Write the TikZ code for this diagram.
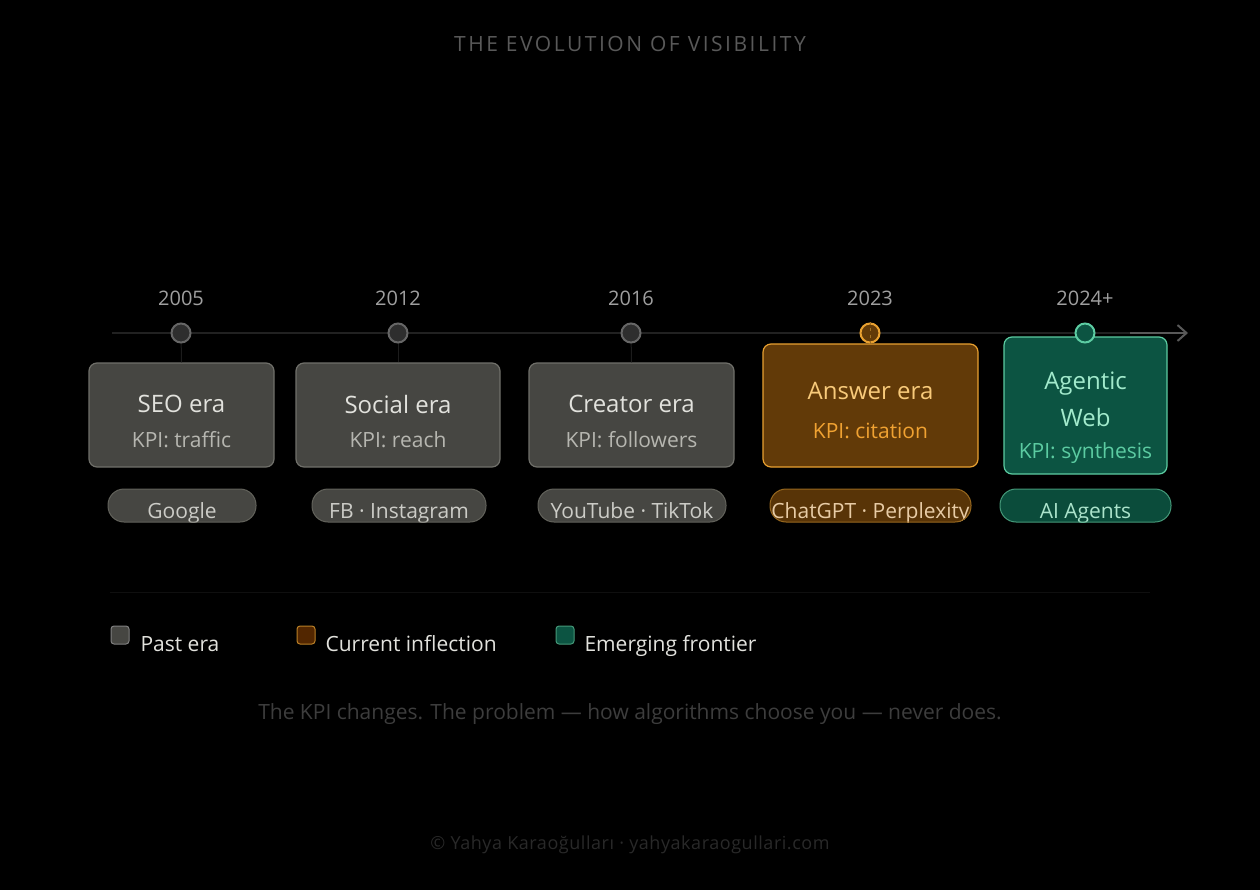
\documentclass[tikz,border=0pt]{standalone}
\usepackage{fontspec}
\setmainfont{Open Sans}
\usetikzlibrary{arrows.meta}

\definecolor{bgblack}{RGB}{0,0,0}
\definecolor{pastfill}{RGB}{70,70,66}
\definecolor{pastdraw}{RGB}{112,112,106}
\definecolor{pasttitle}{RGB}{226,226,221}
\definecolor{pastkpi}{RGB}{182,182,176}
\definecolor{pasttag}{RGB}{204,204,199}
\definecolor{curfill}{RGB}{98,58,8}
\definecolor{curdraw}{RGB}{232,160,48}
\definecolor{curtitle}{RGB}{248,202,122}
\definecolor{curkpi}{RGB}{240,162,50}
\definecolor{curtag}{RGB}{232,204,166}
\definecolor{newfill}{RGB}{12,84,66}
\definecolor{newdraw}{RGB}{92,204,162}
\definecolor{newtitle}{RGB}{162,234,204}
\definecolor{newkpi}{RGB}{92,204,162}
\definecolor{newtag}{RGB}{172,228,204}

\tikzset{
  era/.style={draw, line width=1.2pt, rounded corners=8pt, inner sep=0pt},
  tag/.style={draw, line width=1pt, rounded corners=16pt, inner sep=0pt,
    minimum height=33pt},
  dot/.style={circle, draw, line width=2pt, minimum size=19pt, inner sep=0pt},
  year/.style={text=gray!75, font=\fontsize{20}{24}\selectfont},
  eratitle/.style={font=\fontsize{24}{28}\selectfont},
  erakpi/.style={font=\fontsize{21}{24}\selectfont},
  tagtext/.style={font=\fontsize{21}{24}\selectfont, anchor=base},
  keybox/.style={draw, line width=1pt, rounded corners=3pt, minimum size=18pt, inner sep=0pt},
  keytext/.style={anchor=base west, text=pasttitle, font=\fontsize{21}{24}\selectfont}
}

\begin{document}
\begin{tikzpicture}[x=1pt, y=-1pt]
\fill[bgblack] (0,0) rectangle (1260,890);
\useasboundingbox (0,0) rectangle (1260,890);

\node[text=white!35!black, font=\fontsize{21}{24}\selectfont\addfontfeature{LetterSpace=12}]
  (title) at (630,44) {THE EVOLUTION OF VISIBILITY};

% timeline
\coordinate (start) at (112,333);
\coordinate (arrowtail) at (1130,333);
\coordinate (arrowhead) at (1188,333);
\draw[white!13!black, line width=2pt] (start) -- (arrowtail);
\draw[white!35!black, line width=2pt, -{Straight Barb[length=9pt, width=16pt]}] (arrowtail) -- (arrowhead);

% eras
\draw
(181.5,415) node[era, fill=pastfill, draw=pastdraw, minimum width=185pt, minimum height=104pt](seo){}
(398,415) node[era, fill=pastfill, draw=pastdraw, minimum width=204pt, minimum height=104pt](social){}
(631.5,415) node[era, fill=pastfill, draw=pastdraw, minimum width=205pt, minimum height=104pt](creator){}
(870.5,405.5) node[era, fill=curfill, draw=curdraw, minimum width=215pt, minimum height=123pt](answer){}
(1085.5,405.5) node[era, fill=newfill, draw=newdraw, minimum width=163pt, minimum height=137pt](agentic){};

% ticks and dots
\draw[white!11!black, line width=1pt] (181,333) -- (seo.north);
\draw[white!11!black, line width=1pt] (398,333) -- (social.north);
\draw[white!11!black, line width=1pt] (631,333) -- (creator.north);
\draw
(181,333) node[dot, fill=white!18!black, draw=white!40!black](d05){}
(398,333) node[dot, fill=white!18!black, draw=white!40!black](d12){}
(631,333) node[dot, fill=white!18!black, draw=white!40!black](d16){}
(870,333) node[dot, fill=curfill, draw=curdraw](d23){}
(1085,333) node[dot, fill=newfill, draw=newdraw](d24){};
\draw[curdraw!70!black, line width=1pt, dashed] (d23.north) -- (d23.south);

\node[year] (y05) at (181,298) {2005};
\node[year] (y12) at (398,298) {2012};
\node[year] (y16) at (631,298) {2016};
\node[year] (y23) at (870,298) {2023};
\node[year] (y24) at (1085,298) {2024+};

\node[eratitle, text=pasttitle] (seot) at (181.5,404) {SEO era};
\node[erakpi, text=pastkpi] (seok) at (181.5,440) {KPI: traffic};
\node[eratitle, text=pasttitle] (socialt) at (398,404) {Social era};
\node[erakpi, text=pastkpi] (socialk) at (398,440) {KPI: reach};
\node[eratitle, text=pasttitle] (creatort) at (631.5,404) {Creator era};
\node[erakpi, text=pastkpi] (creatork) at (631.5,440) {KPI: followers};
\node[eratitle, text=curtitle] (answert) at (870.5,391) {Answer era};
\node[erakpi, text=curkpi] (answerk) at (870.5,431) {KPI: citation};
\node[eratitle, text=newtitle] (agentict1) at (1085.5,384) {Agentic};
\node[eratitle, text=newtitle] (agentict2) at (1085.5,417) {Web};
\node[erakpi, text=newkpi] (agentick) at (1085.5,453) {KPI: synthesis};

% platforms
\node[tag, fill=pastfill, draw=pastdraw!110, minimum width=148pt,
  path picture={\node[tagtext, text=pasttag] at ([yshift=-13pt]path picture bounding box.center) {Google};}]
  (google) at (182,505.5) {};
\node[tag, fill=pastfill, draw=pastdraw!110, minimum width=174pt,
  path picture={\node[tagtext, text=pasttag] at ([yshift=-13pt]path picture bounding box.center) {FB · Instagram};}]
  (fb) at (399,505.5) {};
\node[tag, fill=pastfill, draw=pastdraw!110, minimum width=188pt,
  path picture={\node[tagtext, text=pasttag] at ([yshift=-13pt]path picture bounding box.center) {YouTube · TikTok};}]
  (yt) at (632,505.5) {};
\node[tag, fill=curfill!90!black, draw=curdraw!65!black, minimum width=201pt,
  path picture={\node[tagtext, text=curtag] at ([yshift=-13pt]path picture bounding box.center) {ChatGPT · Perplexity};}]
  (chat) at (870.5,505.5) {};
\node[tag, fill=newfill!90!black, draw=newdraw!75!black, minimum width=171pt,
  path picture={\node[tagtext, text=newtag] at ([yshift=-13pt]path picture bounding box.center) {AI Agents};}]
  (agents) at (1085.5,505.5) {};

% divider
\coordinate (divl) at (110,592);
\coordinate (divr) at (1150,592);
\draw[white!6!black, line width=1pt] (divl) -- (divr);

% legend
\node[keybox, fill=pastfill, draw=white!50!black] (kpast) at (120,635) {};
\node[keytext] (tpast) at (137,651) {Past era};
\node[keybox, fill=curfill!110, draw=curdraw!80!black] (kcur) at (306,635) {};
\node[keytext] (tcur) at (322,651) {Current inflection};
\node[keybox, fill=newfill, draw=newdraw!75!black] (knew) at (565,635) {};
\node[keytext] (tnew) at (581,651) {Emerging frontier};

\node[text=white!24!black, font=\fontsize{21}{24}\selectfont] (caption) at (630,714)
  {The KPI changes. The problem — how algorithms choose you — never does.};
\node[text=white!16!black, font=\fontsize{18}{20}\selectfont\addfontfeature{LetterSpace=3}] (footer) at (630,845)
  {© Yahya Karaoğulları · yahyakaraogullari.com};
\end{tikzpicture}
\end{document}
